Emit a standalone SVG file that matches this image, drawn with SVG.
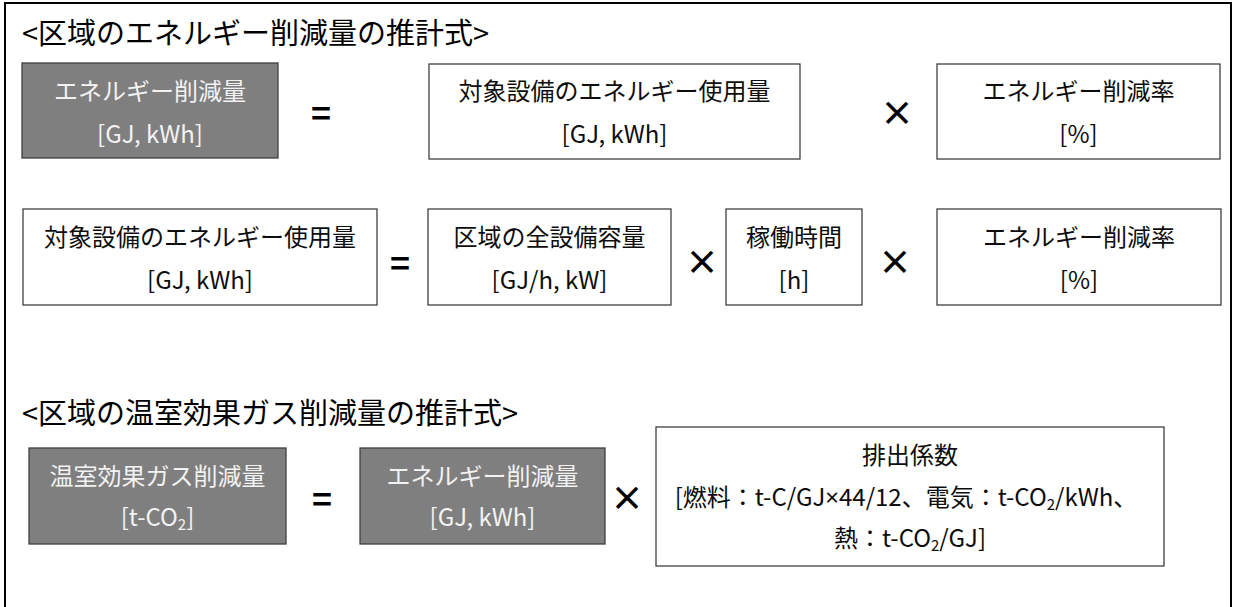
<svg xmlns="http://www.w3.org/2000/svg" width="1240" height="607" viewBox="0 0 1240 607">
<style>
text{font-family:"Noto Sans CJK JP","Noto Sans",sans-serif;}
.title{font-size:29px;fill:#000;}
.box{fill:#fff;stroke:#404040;stroke-width:1.3;}
.dark{fill:#7f7f7f;stroke:#404040;stroke-width:1.3;}
.t{font-size:24px;fill:#0d0d0d;text-anchor:middle;}
.tw{font-size:24px;fill:#f2f2f2;text-anchor:middle;}
.op{font-size:34px;font-weight:bold;fill:#000;text-anchor:middle;dominant-baseline:central;}
</style>
<rect x="5" y="3" width="1226" height="660" fill="#fff" stroke="#000" stroke-width="2"/>
<text class="title" x="22" y="44">&lt;区域のエネルギー削減量の推計式&gt;</text>
<text class="title" x="22" y="424">&lt;区域の温室効果ガス削減量の推計式&gt;</text>

<g id="row1-energy-reduction">
<rect class="dark" x="22" y="63" width="256" height="95"/>
<text class="tw" x="150" y="100">エネルギー削減量</text>
<text class="tw" x="150" y="143">[GJ, kWh]</text>
</g>
<g id="row1-target-usage">
<rect class="box" x="429" y="64" width="371" height="95"/>
<text class="t" x="614.5" y="100">対象設備のエネルギー使用量</text>
<text class="t" x="614.5" y="143">[GJ, kWh]</text>
</g>
<g id="row1-reduction-rate">
<rect class="box" x="937" y="64" width="283" height="95"/>
<text class="t" x="1078.5" y="100">エネルギー削減率</text>
<text class="t" x="1078.5" y="143">[%]</text>
</g>

<g id="row2-target-usage">
<rect class="box" x="23" y="209" width="354" height="96"/>
<text class="t" x="200" y="246">対象設備のエネルギー使用量</text>
<text class="t" x="200" y="289">[GJ, kWh]</text>
</g>
<g id="row2-capacity">
<rect class="box" x="428" y="209" width="243" height="96"/>
<text class="t" x="549.5" y="246">区域の全設備容量</text>
<text class="t" x="549.5" y="289">[GJ/h, kW]</text>
</g>
<g id="row2-hours">
<rect class="box" x="726" y="209" width="136" height="96"/>
<text class="t" x="794" y="246">稼働時間</text>
<text class="t" x="794" y="289">[h]</text>
</g>
<g id="row2-reduction-rate">
<rect class="box" x="937" y="209" width="284" height="96"/>
<text class="t" x="1079" y="246">エネルギー削減率</text>
<text class="t" x="1079" y="289">[%]</text>
</g>

<g id="row3-ghg-reduction">
<rect class="dark" x="29" y="448" width="257" height="96"/>
<text class="tw" x="157.5" y="485">温室効果ガス削減量</text>
<text class="tw" x="157.5" y="526">[t-CO<tspan font-size="15" dy="4">2</tspan><tspan dy="-4">]</tspan></text>
</g>
<g id="row3-energy-reduction">
<rect class="dark" x="360" y="448" width="245" height="96"/>
<text class="tw" x="482.5" y="485">エネルギー削減量</text>
<text class="tw" x="482.5" y="526">[GJ, kWh]</text>
</g>
<g id="row3-emission-factor">
<rect class="box" x="656" y="427" width="508" height="139"/>
<text class="t" x="910" y="464">排出係数</text>
<text class="t" x="906" y="506">[燃料：t-C/GJ<tspan font-family="Noto Sans, sans-serif">×</tspan>44/12、電気：t-CO<tspan font-size="15" dy="4">2</tspan><tspan dy="-4">/kWh、</tspan></text>
<text class="t" x="910" y="547">熱：t-CO<tspan font-size="15" dy="4">2</tspan><tspan dy="-4">/GJ]</tspan></text>
</g>

<g id="connectors">
<text class="op" x="321" y="111">=</text>
<text class="op" x="897" y="111">×</text>
<text class="op" x="400" y="261">=</text>
<text class="op" x="702" y="260">×</text>
<text class="op" x="895" y="260">×</text>
<text class="op" x="322" y="497">=</text>
<text class="op" x="627" y="496">×</text>
</g>
</svg>
